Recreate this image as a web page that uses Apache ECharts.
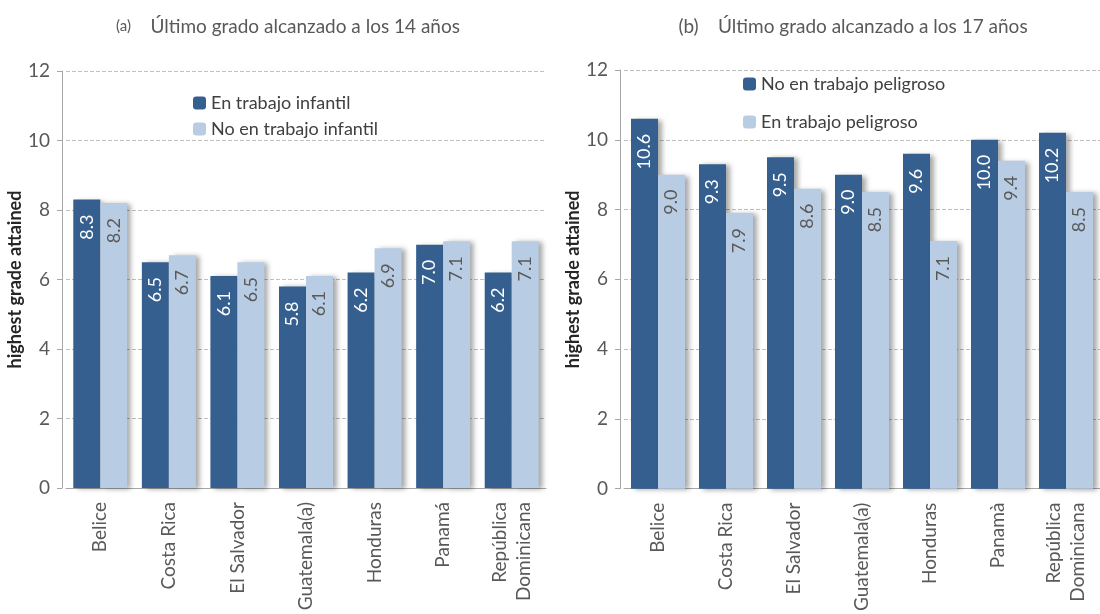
<!DOCTYPE html>
<html>
<head>
<meta charset="utf-8">
<script src="https://cdn.jsdelivr.net/npm/echarts@6/dist/echarts.min.js"></script>
<style>
  html, body { margin: 0; padding: 0; background: #fff; }
  #chart { width: 1100px; height: 614px; }
</style>
</head>
<body>
<div id="chart"></div>
<script>
// categories
const countriesA = ['Belice', 'Costa Rica', 'El Salvador', 'Guatemala(a)', 'Honduras', 'Panamá', 'República\nDominicana'];
const countriesB = ['Belice', 'Costa Rica', 'El Salvador', 'Guatemala(a)', 'Honduras', 'Panamà', 'República\nDominicana'];

// (a) 14 años
const enTrabajoInfantil = [8.3, 6.5, 6.1, 5.8, 6.2, 7.0, 6.2];
const noEnTrabajoInfantil = [8.2, 6.7, 6.5, 6.1, 6.9, 7.1, 7.1];

// (b) 17 años
const noEnTrabajoPeligroso = [10.6, 9.3, 9.5, 9.0, 9.6, 10.0, 10.2];
const enTrabajoPeligroso = [9.0, 7.9, 8.6, 8.5, 7.1, 9.4, 8.5];

const yTicks = [0, 2, 4, 6, 8, 10, 12];

const DARK = '#355f8f';
const LIGHT = '#b8cce4';
const FONT = 'Lato, "Open Sans", sans-serif';
const GREY = '#595959';

const chart = echarts.init(document.getElementById('chart'));

const shadow = {
  shadowColor: 'rgba(0,0,0,0.35)',
  shadowBlur: 5,
  shadowOffsetX: 4,
  shadowOffsetY: 1
};

const barLabel = (color) => ({
  show: true,
  position: 'insideTop',
  rotate: 90,
  align: 'right',
  verticalAlign: 'middle',
  distance: 15,
  fontFamily: FONT,
  fontSize: 18,
  color: color,
  formatter: p => p.value.toFixed(1)
});

const yAxisBase = (gridIndex) => ({
  type: 'value',
  gridIndex: gridIndex,
  min: yTicks[0],
  max: yTicks[yTicks.length - 1],
  interval: 2,
  offset: 4,
  name: 'highest grade attained',
  nameLocation: 'middle',
  nameGap: 29,
  nameTextStyle: { fontFamily: FONT, fontSize: 18, fontWeight: 'bold', color: '#262626' },
  axisLine: { show: true, lineStyle: { color: '#a6a6a6' } },
  axisTick: { show: true, length: 5, lineStyle: { color: '#a6a6a6' } },
  axisLabel: { fontFamily: FONT, fontSize: 19, color: GREY, margin: 12 },
  splitLine: { lineStyle: { color: '#bfbfbf', type: 'dashed' } }
});

const xAxisBase = (gridIndex, data) => ({
  type: 'category',
  gridIndex: gridIndex,
  data: data,
  axisLine: { lineStyle: { color: '#a6a6a6' } },
  axisTick: { show: false },
  axisLabel: {
    rotate: 90,
    margin: 14,
    fontFamily: FONT,
    fontSize: 19,
    color: GREY,
    lineHeight: 24,
    interval: 0
  }
});

const option = {
  animation: false,
  textStyle: { fontFamily: FONT },
  title: [
    {
      text: '{s|(a)}    Último grado alcanzado a los 14 años',
      left: 283, top: 12, textAlign: 'center',
      textStyle: { fontFamily: FONT, fontSize: 19, fontWeight: 'normal', color: GREY,
        rich: { s: { fontFamily: FONT, fontSize: 15, color: GREY } } }
    },
    {
      text: '{s|(b)}    Último grado alcanzado a los 17 años',
      left: 848, top: 12, textAlign: 'center',
      textStyle: { fontFamily: FONT, fontSize: 19, fontWeight: 'normal', color: GREY,
        rich: { s: { fontFamily: FONT, fontSize: 19, color: GREY } } }
    }
  ],
  legend: [
    {
      data: ['En trabajo infantil', 'No en trabajo infantil'],
      orient: 'vertical',
      left: 188, top: 89,
      itemWidth: 13, itemHeight: 13,
      itemGap: 8,
      textStyle: { fontFamily: FONT, fontSize: 18, color: '#404040' }
    },
    {
      data: ['No en trabajo peligroso', 'En trabajo peligroso'],
      orient: 'vertical',
      left: 738, top: 70,
      itemWidth: 13, itemHeight: 13,
      itemGap: 20,
      textStyle: { fontFamily: FONT, fontSize: 18, color: '#404040' }
    }
  ],
  grid: [
    { left: 66, top: 71, width: 480, height: 417 },
    { left: 624, top: 70, width: 488, height: 422 }
  ],
  xAxis: [xAxisBase(0, countriesA), xAxisBase(1, countriesB)],
  yAxis: [yAxisBase(0), yAxisBase(1)],
  series: [
    {
      name: 'En trabajo infantil', type: 'bar', xAxisIndex: 0, yAxisIndex: 0,
      data: enTrabajoInfantil, barWidth: 27, barGap: '0%',
      itemStyle: Object.assign({ color: DARK }, shadow),
      label: barLabel('#ffffff')
    },
    {
      name: 'No en trabajo infantil', type: 'bar', xAxisIndex: 0, yAxisIndex: 0,
      data: noEnTrabajoInfantil, barWidth: 27, barGap: '0%',
      itemStyle: Object.assign({ color: LIGHT }, shadow),
      label: barLabel(GREY)
    },
    {
      name: 'No en trabajo peligroso', type: 'bar', xAxisIndex: 1, yAxisIndex: 1,
      data: noEnTrabajoPeligroso, barWidth: 27, barGap: '0%',
      itemStyle: Object.assign({ color: DARK }, shadow),
      label: barLabel('#ffffff')
    },
    {
      name: 'En trabajo peligroso', type: 'bar', xAxisIndex: 1, yAxisIndex: 1,
      data: enTrabajoPeligroso, barWidth: 27, barGap: '0%',
      itemStyle: Object.assign({ color: LIGHT }, shadow),
      label: barLabel(GREY)
    }
  ]
};

chart.setOption(option);
</script>
</body>
</html>
